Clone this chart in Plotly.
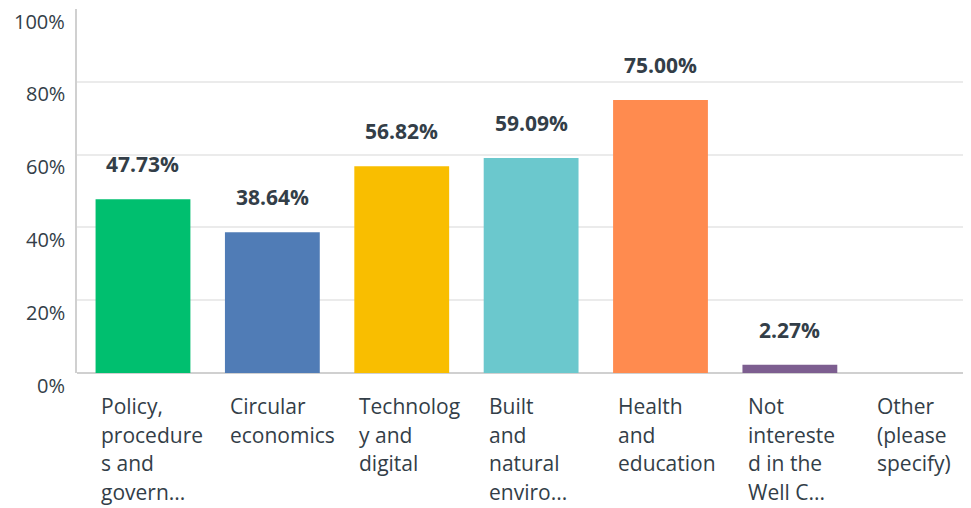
import plotly.graph_objects as go

# Survey answer choices (as wrapped/truncated in the original chart)
choices = [
    ["Policy,", "procedure", "s and", "govern..."],
    ["Circular", "economics"],
    ["Technolog", "y and", "digital"],
    ["Built", "and", "natural", "enviro..."],
    ["Health", "and", "education"],
    ["Not", "intereste", "d in the", "Well C..."],
    ["Other", "(please", "specify)"],
]
percent = [47.73, 38.64, 56.82, 59.09, 75.00, 2.27, 0.0]
bar_colors = ["#00BF6F", "#507CB6", "#F9BE00", "#6BC8CD", "#FF8B4F", "#7D5E90", "#A0A0A0"]
y_ticks = [0, 20, 40, 60, 80, 100]

text_color = "#333E48"
font_family = "Open Sans"
x_pos = list(range(len(choices)))

fig = go.Figure(
    go.Bar(
        x=x_pos,
        y=percent,
        marker_color=bar_colors,
        marker_line_width=0,
        width=0.733,
        hoverinfo="skip",
    )
)

# value labels above bars (zero bars get none)
for i, v in enumerate(percent):
    if v > 0:
        fig.add_annotation(
            x=i, y=v, text=f"<b>{v:.2f}%</b>", showarrow=False,
            yanchor="bottom", yshift=19,
            font=dict(size=21, color=text_color, family=font_family),
        )

# category labels, left aligned under each bar, one annotation per line
# so the line spacing can match the original (~29px)
for i, lines in enumerate(choices):
    for k, line in enumerate(lines):
        fig.add_annotation(
            x=i - 0.335, y=0, text=line, showarrow=False,
            xanchor="left", yanchor="top", align="left",
            yshift=-18 - 28.5 * k, borderpad=0,
            font=dict(size=21, color=text_color, family=font_family),
        )

# y tick labels sit a little below their gridlines in the original
for t in y_ticks:
    fig.add_annotation(
        x=0, xref="paper", y=t, text=f"{t}%", showarrow=False,
        xanchor="right", xshift=-10, yshift=-12,
        font=dict(size=20, color=text_color, family=font_family),
    )

# the page body adds an 8px margin, so the figure is sized to fit inside it
fig.update_layout(
    width=963,
    height=500,
    margin=dict(l=69, r=0, t=1, b=135),
    paper_bgcolor="white",
    plot_bgcolor="white",
    showlegend=False,
    xaxis=dict(
        range=[-0.51, 6.4],
        showticklabels=False,
        showgrid=False,
        zeroline=False,
        fixedrange=True,
    ),
    yaxis=dict(
        range=[0, 100],
        tickvals=y_ticks,
        showticklabels=False,
        showgrid=True,
        gridcolor="#EBEBEB",
        gridwidth=1.5,
        zeroline=True,
        zerolinecolor="#D0D0D0",
        zerolinewidth=1.5,
        showline=True,
        linecolor="#D0D0D0",
        linewidth=1.5,
        fixedrange=True,
    ),
)

fig.write_html("out.html")
